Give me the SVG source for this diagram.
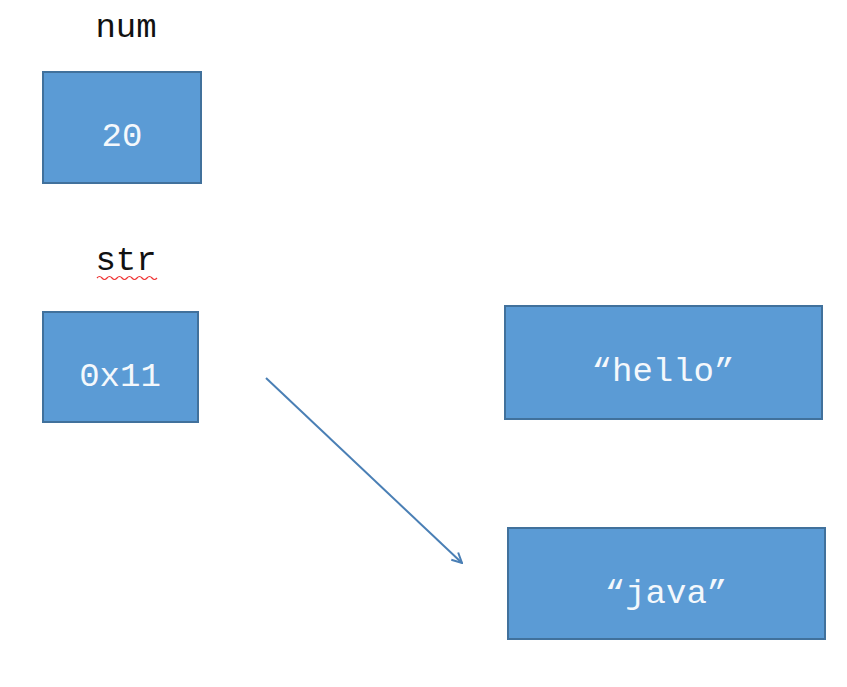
<svg xmlns="http://www.w3.org/2000/svg" width="847" height="687" viewBox="0 0 847 687">
<defs>
<style>
.box{fill:#5b9bd5;stroke:#41719c;stroke-width:2}
.lbl{font-family:"Liberation Mono","DejaVu Sans Mono",monospace;font-size:34px;fill:#111;text-anchor:middle}
.val{font-family:"Liberation Mono","DejaVu Sans Mono",monospace;font-size:34px;fill:#f4f8fc;text-anchor:middle}
.conn{stroke:#4a7fb5;stroke-width:2;fill:none}
</style>
<marker id="arr" viewBox="0 0 12 12" refX="11" refY="6" markerWidth="12" markerHeight="12" markerUnits="userSpaceOnUse" orient="auto">
<path d="M1,1 L11,6 L1,11" fill="none" stroke="#4a7fb5" stroke-width="2"/>
</marker>
</defs>
<rect width="847" height="687" fill="#fff"/>
<g id="num">
<text class="lbl" x="126" y="37">num</text>
<rect class="box" x="43" y="72" width="158" height="111"/>
<text class="val" x="122" y="146">20</text>
</g>
<g id="str">
<text class="lbl" x="126" y="270">str</text>
<path d="M97,278 q2.5,-3 5,0 t5,0 t5,0 t5,0 t5,0 t5,0 t5,0 t5,0 t5,0 t5,0 t5,0 t5,0" fill="none" stroke="#e33" stroke-width="1.2"/>
<rect class="box" x="43" y="312" width="155" height="110"/>
<text class="val" x="120" y="386">0x11</text>
</g>
<g id="hello">
<rect class="box" x="505" y="306" width="317" height="113"/>
<text class="val" x="663" y="381">“hello”</text>
</g>
<g id="java">
<rect class="box" x="508" y="528" width="317" height="111"/>
<text class="val" x="666" y="603">“java”</text>
</g>
<g id="connectors">
<line class="conn" x1="266" y1="378" x2="462" y2="563" marker-end="url(#arr)"/>
</g>
</svg>
